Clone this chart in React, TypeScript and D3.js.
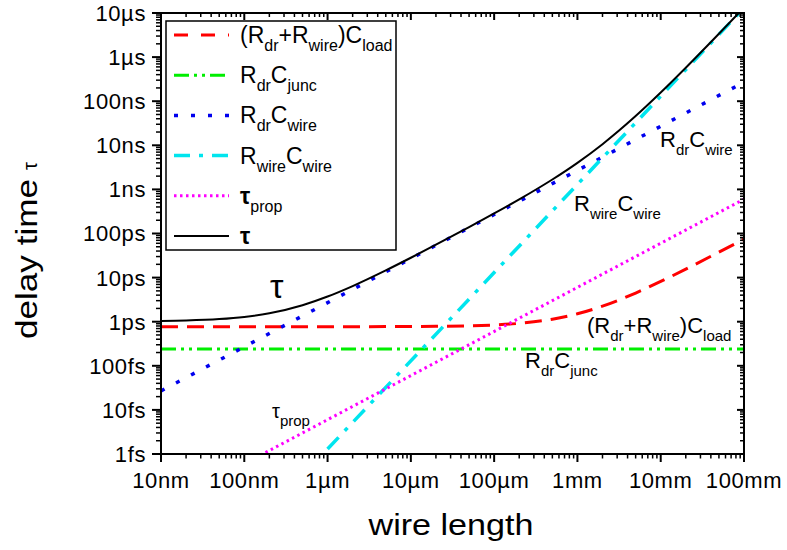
import React from "react";
import * as d3 from "d3";

// ---- data ----
const xTickValues = [1e-8, 1e-7, 1e-6, 1e-5, 1e-4, 1e-3, 1e-2, 1e-1];
const xTickLabels = ["10nm", "100nm", "1µm", "10µm", "100µm", "1mm", "10mm", "100mm"];
const yTickValues = [1e-15, 1e-14, 1e-13, 1e-12, 1e-11, 1e-10, 1e-9, 1e-8, 1e-7, 1e-6, 1e-5];
const yTickLabels = ["1fs", "10fs", "100fs", "1ps", "10ps", "100ps", "1ns", "10ns", "100ns", "1µs", "10µs"];

// wire lengths (m) for curved series
const lengths = [1e-8, 2e-8, 5e-8, 1e-7, 2e-7, 5e-7, 1e-6, 2e-6, 5e-6, 1e-5, 2e-5, 5e-5, 1e-4, 2e-4, 5e-4, 1e-3, 2e-3, 5e-3, 1e-2, 2e-2, 5e-2, 1e-1];
const tauTotal = [1.037e-12, 1.064e-12, 1.145e-12, 1.281e-12, 1.551e-12, 2.363e-12, 3.718e-12, 6.43e-12, 1.458e-11, 2.821e-11, 5.567e-11, 1.396e-10, 2.847e-10, 5.944e-10, 1.679e-9, 4.008e-9, 1.061e-8, 4.604e-8, 1.5707e-7, 5.741e-7, 3.385e-6, 1.327e-5];
const rLoad = [7.7e-13, 7.7e-13, 7.7e-13, 7.7e-13, 7.7e-13, 7.7e-13, 7.7e-13, 7.72e-13, 7.74e-13, 7.77e-13, 7.85e-13, 8.07e-13, 8.44e-13, 9.18e-13, 1.14e-12, 1.51e-12, 2.25e-12, 4.47e-12, 8.17e-12, 1.557e-11, 3.777e-11, 7.477e-11];

// straight series (endpoints)
const junctionLengths = [1e-8, 1e-1];
const rdrCjunc = [2.4e-13, 2.4e-13];
const rdrCwireLengths = [1e-8, 1e-1];
const rdrCwire = [2.7e-14, 2.7e-7];
const rwireCwireLengths = [1e-6, 1e-1];
const rwireCwire = [1.3e-15, 1.3e-5];
const propLengths = [1e-7, 1e-1];
const tauProp = [6e-16, 6e-10];

const FONT = "'Liberation Sans', Arial, Helvetica, sans-serif";

const L = 161, R = 744, T = 13, B = 454;

type Part = { t: string; sub?: boolean };

function Label({ x, y, parts, size = 22, subSize = 16, weightFirst }: { x: number; y: number; parts: Part[]; size?: number; subSize?: number; weightFirst?: boolean }) {
  let cur = 0;
  return (
    <text x={x} y={y} fontFamily={FONT} fontSize={size} fill="#000">
      {parts.map((p, i) => {
        const target = p.sub ? 8 : 0;
        const dy = target - cur;
        cur = target;
        return (
          <tspan key={i} dy={dy} fontSize={p.sub ? subSize : size} fontWeight={weightFirst && i === 0 ? "bold" : "normal"}>
            {p.t}
          </tspan>
        );
      })}
    </text>
  );
}

export default function App() {
  const x = d3.scaleLog().domain([1e-8, 1e-1]).range([L, R]);
  const y = d3.scaleLog().domain([1e-15, 1e-5]).range([B, T]);

  const straight = d3.line<[number, number]>().x((d) => x(d[0])).y((d) => y(d[1]));
  const curved = d3
    .line<[number, number]>()
    .x((d) => x(d[0]))
    .y((d) => y(d[1]))
    .curve(d3.curveMonotoneX);

  const zip = (a: number[], b: number[]) => a.map((v, i) => [v, b[i]] as [number, number]);

  const series = [
    { key: "load", d: curved(zip(lengths, rLoad)), color: "#ff0000", dash: "17,9", w: 3 },
    { key: "junc", d: straight(zip(junctionLengths, rdrCjunc)), color: "#00ee00", dash: "15,5,3,5,3,5", w: 3 },
    { key: "rdrw", d: straight(zip(rdrCwireLengths, rdrCwire)), color: "#0000ee", dash: "4,13", w: 3.5 },
    { key: "rww", d: straight(zip(rwireCwireLengths, rwireCwire)), color: "#00e5ee", dash: "16,9,4,9", w: 3.5 },
    { key: "prop", d: straight(zip(propLengths, tauProp)), color: "#ff00ff", dash: "2.5,3.5", w: 3 },
    { key: "tau", d: curved(zip(lengths, tauTotal)), color: "#000000", dash: undefined as string | undefined, w: 2 },
  ];

  // minor ticks
  const minorX: number[] = [];
  for (let e = -8; e < -1; e++) for (let m = 2; m <= 9; m++) minorX.push(m * Math.pow(10, e));
  const minorY: number[] = [];
  for (let e = -15; e < -5; e++) for (let m = 2; m <= 9; m++) minorY.push(m * Math.pow(10, e));

  const legendRows: { color: string; dash?: string; w: number; parts: Part[]; bold?: boolean }[] = [
    { color: "#ff0000", dash: "14,13", w: 3, parts: [{ t: "(R" }, { t: "dr", sub: true }, { t: "+R" }, { t: "wire", sub: true }, { t: ")C" }, { t: "load", sub: true }] },
    { color: "#00ee00", dash: "15,5,3,5,3,5", w: 3, parts: [{ t: "R" }, { t: "dr", sub: true }, { t: "C" }, { t: "junc", sub: true }] },
    { color: "#0000ee", dash: "4,13", w: 3.5, parts: [{ t: "R" }, { t: "dr", sub: true }, { t: "C" }, { t: "wire", sub: true }] },
    { color: "#00e5ee", dash: "16,9,4,9", w: 3.5, parts: [{ t: "R" }, { t: "wire", sub: true }, { t: "C" }, { t: "wire", sub: true }] },
    { color: "#ff00ff", dash: "2.5,3.5", w: 3, parts: [{ t: "τ" }, { t: "prop", sub: true }], bold: true },
    { color: "#000000", w: 2, parts: [{ t: "τ" }], bold: true },
  ];
  const legendY0 = 35;
  const legendStep = 40.2;

  return (
    <svg width={787} height={550} style={{ position: "absolute", left: 0, top: 0, background: "#fff" }}>
      <defs>
        <clipPath id="plotClip">
          <rect x={L} y={T} width={R - L} height={B - T} />
        </clipPath>
      </defs>
      <rect x={0} y={0} width={787} height={550} fill="#fff" />

      {/* curves */}
      <g clipPath="url(#plotClip)">
        {series.map((s) => (
          <path key={s.key} d={s.d || ""} fill="none" stroke={s.color} strokeWidth={s.w} strokeDasharray={s.dash} />
        ))}
      </g>

      {/* frame */}
      <rect x={L} y={T} width={R - L} height={B - T} fill="none" stroke="#000" strokeWidth={2} />

      {/* x ticks */}
      {xTickValues.map((v) => (
        <g key={"xt" + v}>
          <line x1={x(v)} x2={x(v)} y1={B} y2={B + 8} stroke="#000" strokeWidth={2} />
          <line x1={x(v)} x2={x(v)} y1={T} y2={T + 7} stroke="#000" strokeWidth={2} />
        </g>
      ))}
      {minorX.map((v) => (
        <g key={"xm" + v}>
          <line x1={x(v)} x2={x(v)} y1={B} y2={B + 4.5} stroke="#000" strokeWidth={1.5} />
          <line x1={x(v)} x2={x(v)} y1={T} y2={T + 4} stroke="#000" strokeWidth={1.5} />
        </g>
      ))}
      {xTickValues.map((v, i) => (
        <text key={"xl" + v} x={x(v)} y={488} textAnchor="middle" fontFamily={FONT} fontSize={22} letterSpacing={0.6}>
          {xTickLabels[i]}
        </text>
      ))}

      {/* y ticks */}
      {yTickValues.map((v) => (
        <g key={"yt" + v}>
          <line x1={L - 9} x2={L} y1={y(v)} y2={y(v)} stroke="#000" strokeWidth={2} />
          <line x1={R - 7} x2={R} y1={y(v)} y2={y(v)} stroke="#000" strokeWidth={2} />
        </g>
      ))}
      {minorY.map((v) => (
        <g key={"ym" + v}>
          <line x1={L - 5} x2={L} y1={y(v)} y2={y(v)} stroke="#000" strokeWidth={1.5} />
          <line x1={R - 4} x2={R} y1={y(v)} y2={y(v)} stroke="#000" strokeWidth={1.5} />
        </g>
      ))}
      {yTickValues.map((v, i) => (
        <text key={"yl" + v} x={146} y={y(v)} dy="0.36em" textAnchor="end" fontFamily={FONT} fontSize={22} letterSpacing={0.6}>
          {yTickLabels[i]}
        </text>
      ))}

      {/* axis titles */}
      <text x={451} y={535} textAnchor="middle" fontFamily={FONT} fontSize={30} textLength={165} lengthAdjust="spacingAndGlyphs">
        wire length
      </text>
      <text transform="translate(37,339) rotate(-90)" fontFamily={FONT} fontSize={30} textLength={160} lengthAdjust="spacingAndGlyphs">
        delay time
      </text>
      <text transform="translate(37,170) rotate(-90)" fontFamily={FONT} fontSize={20}>
        τ
      </text>

      {/* legend */}
      <rect x={166} y={21} width={230} height={229} fill="#fff" stroke="#000" strokeWidth={1.5} />
      {legendRows.map((r, i) => {
        const cy = legendY0 + i * legendStep;
        return (
          <g key={"lg" + i}>
            <line x1={174} x2={229} y1={cy} y2={cy} stroke={r.color} strokeWidth={r.w} strokeDasharray={r.dash} />
            <Label x={240} y={cy + 8} parts={r.parts} size={23} subSize={16} weightFirst={r.bold} />
          </g>
        );
      })}

      {/* in-plot annotations */}
      <text x={270} y={298} fontFamily={FONT} fontSize={34}>τ</text>
      <Label x={660} y={147} parts={[{ t: "R" }, { t: "dr", sub: true }, { t: "C" }, { t: "wire", sub: true }]} size={22} subSize={15} />
      <Label x={574} y={211} parts={[{ t: "R" }, { t: "wire", sub: true }, { t: "C" }, { t: "wire", sub: true }]} size={22} subSize={15} />
      <Label x={587} y={333} parts={[{ t: "(R" }, { t: "dr", sub: true }, { t: "+R" }, { t: "wire", sub: true }, { t: ")C" }, { t: "load", sub: true }]} size={22} subSize={15} />
      <Label x={525} y={368} parts={[{ t: "R" }, { t: "dr", sub: true }, { t: "C" }, { t: "junc", sub: true }]} size={22} subSize={15} />
      <Label x={272} y={418} parts={[{ t: "τ" }, { t: "prop", sub: true }]} size={20} subSize={15} />
    </svg>
  );
}
